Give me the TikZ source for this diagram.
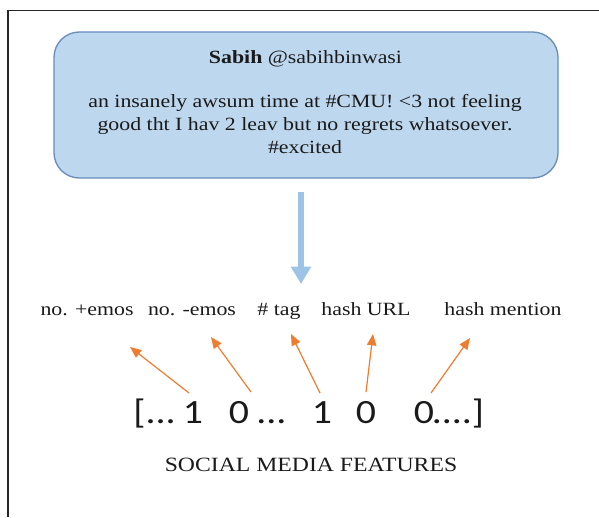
\documentclass[tikz,border=0pt]{standalone}
\usepackage{fontspec}
\usetikzlibrary{arrows.meta}
\newfontfamily\tnr[FakeStretch=1.17]{Liberation Serif}
\newfontfamily\vecfont[FakeStretch=1.17]{Carlito}
\definecolor{boxfill}{HTML}{BDD7EE}
\definecolor{boxline}{HTML}{6A8DBA}
\definecolor{bluearr}{HTML}{9DC3E6}
\definecolor{orangearr}{HTML}{ED7D31}
\definecolor{txtcol}{HTML}{1A1A1A}
\begin{document}
\begin{tikzpicture}[x=0.75pt,y=-0.75pt,
  frame/.style={draw=black!85,line width=1.2pt},
  tweetbox/.style={draw=boxline,fill=boxfill,line width=1pt,rounded corners=19pt,
    minimum width=378pt,minimum height=109.5pt,inner sep=0pt},
  txt/.style={inner sep=0pt,text=txtcol,font=\tnr\fontsize{14pt}{17pt}\selectfont},
  lbl/.style={inner sep=0pt,text=txtcol,font=\tnr\fontsize{14pt}{17pt}\selectfont},
  vec/.style={inner sep=0pt,text=txtcol,font=\vecfont\fontsize{25.5pt}{30pt}\selectfont},
  captxt/.style={inner sep=0pt,text=txtcol,font=\tnr\fontsize{15.2pt}{18pt}\selectfont},
  bigarrow/.style={draw=bluearr,line width=5pt,-{Triangle[length=13pt,width=14.5pt]}},
  featarrow/.style={draw=orangearr,line width=0.9pt,-{Triangle[length=8.5pt,width=7pt]}}]
\useasboundingbox (0,0) rectangle (599,517);
\fill[white] (0,0) rectangle (599,517);
\draw[frame] (8,517) -- (8,10.5) -- (599,10.5);
% tweet box
\node[tweetbox] (tweet) at (306,105) {};
\node[txt,anchor=base] (head) at (305.5,64) {\textbf{Sabih} @sabihbinwasi};
\node[txt,anchor=base] (l1) at (305,107) {an insanely awsum time at \#CMU! <3 not feeling};
\node[txt,anchor=base] (l2) at (305,130) {good tht I hav 2 leav but no regrets whatsoever.};
\node[txt,anchor=base] (l3) at (305,153) {\#excited};
% big arrow
\coordinate (bstart) at (301,192);
\coordinate (bend) at (301,284);
\draw[bigarrow] (bstart) -- (bend);
% labels
\node[lbl,anchor=base] (f1) at (87,315) {no. +emos};
\node[lbl,anchor=base] (f2) at (192,315) {no. -emos};
\node[lbl,anchor=base] (f3) at (279,315) {\# tag};
\node[lbl,anchor=base] (f4) at (366,315) {hash URL};
\node[lbl,anchor=base] (f5) at (503,315) {hash mention};
% vector
\node[vec,anchor=base] (v0) at (154.5,423) {[...};
\node[vec,anchor=base] (d1) at (193,423) {1};
\node[vec,anchor=base] (d2) at (239,423) {0};
\node[vec,anchor=base] (v1) at (271.5,423) {...};
\node[vec,anchor=base] (d3) at (322,423) {1};
\node[vec,anchor=base] (d4) at (366,423) {0};
\node[vec,anchor=base] (d5) at (424,423) {0};
\node[vec,anchor=base] (v2) at (458,423) {....]};
% arrow ends
\coordinate (t1) at (189,393); \coordinate (h1) at (130,347);
\coordinate (t2) at (251,392); \coordinate (h2) at (211,337);
\coordinate (t3) at (320,393); \coordinate (h3) at (291,334);
\coordinate (t4) at (366,392); \coordinate (h4) at (373,334);
\coordinate (t5) at (431,393); \coordinate (h5) at (470,338);
\draw[featarrow] (t1) -- (h1);
\draw[featarrow] (t2) -- (h2);
\draw[featarrow] (t3) -- (h3);
\draw[featarrow] (t4) -- (h4);
\draw[featarrow] (t5) -- (h5);
% caption
\node[captxt,anchor=base] (caption) at (311,471) {SOCIAL MEDIA FEATURES};
\end{tikzpicture}
\end{document}
